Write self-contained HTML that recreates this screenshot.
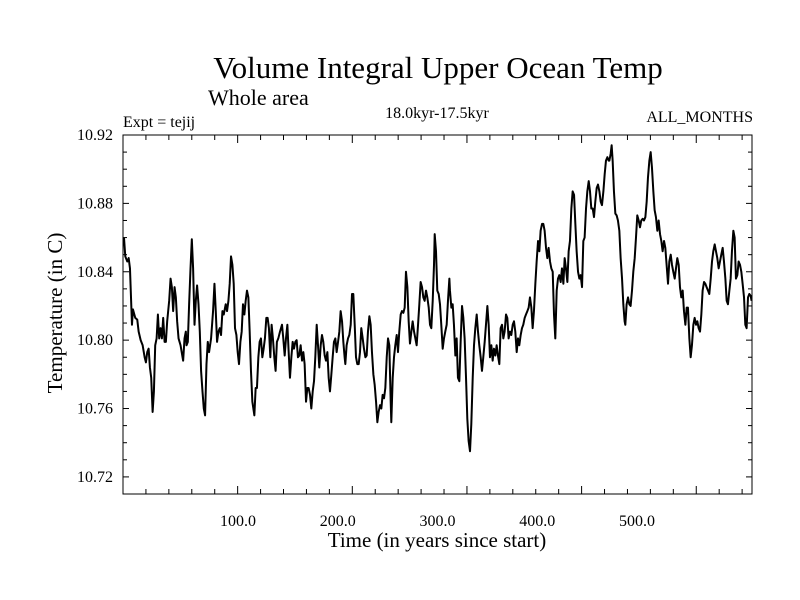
<!DOCTYPE html>
<html><head><meta charset="utf-8">
<style>
html,body{margin:0;padding:0;background:#fff;}
svg{display:block;font-family:"Liberation Serif",serif;}
</style></head>
<body>
<svg id="chart" width="800" height="600" viewBox="0 0 800 600" xmlns="http://www.w3.org/2000/svg">
<text x="438" y="78" font-size="31" text-anchor="middle">Volume Integral Upper Ocean Temp</text>
<text x="208" y="105" font-size="22">Whole area</text>
<text x="123" y="127" font-size="16">Expt = tejij</text>
<text x="437" y="118" font-size="16" text-anchor="middle">18.0kyr-17.5kyr</text>
<text x="753" y="122" font-size="16" text-anchor="end">ALL_MONTHS</text>
<text x="437" y="547" font-size="21" text-anchor="middle">Time (in years since start)</text>
<text x="0" y="0" font-size="21" text-anchor="middle" transform="translate(62,313) rotate(-90)">Temperature (in C)</text>
<g id="axes"></g>
<g id="plot"></g>
</svg>
<script>
const years = [-14.3,-13,-11,-9.6,-8.3,-6.3,-5.3,-3,-1,0.4,2.4,4.4,6.4,7.7,9,10.4,11.7,13,14.4,15.7,17,18.4,19.7,21,22.4,23.7,25,26.4,27.7,29,31,32.4,33.7,35,36.4,37.7,39,40.4,42.4,44.4,45,46.4,47.7,48.4,49.7,51,52.4,53.7,55,56.4,57.7,59,60.4,61.7,63,64.4,65.7,67,68.4,69.7,71,73,75,76.4,77.7,79,80.4,81.7,83,84.4,85.7,87.7,89,90.4,91.7,93,94.4,95.7,97,98.4,99.7,101,102.4,103.7,105,106.4,107.7,109,110.4,111.7,113,114.4,116.4,117.7,119,120.4,121.7,123,124.4,125.7,127,128.4,129.7,131,132.4,133.7,135,136.4,137.7,139,140.4,
142.1,144.1,145.4,146.8,148.1,149.5,150.8,152.1,153.5,154.8,156.1,157.5,158.8,160.1,161.5,162.8,164.2,165.5,166.8,168.2,169.5,170.8,172.2,173.5,174.9,176.2,177.5,178.9,180.2,181.5,182.9,184.2,185.5,186.9,188.2,189.6,190.9,192.2,193.6,194.9,196.2,197.6,198.9,200.3,201.6,202.9,204.3,205.6,206.9,207.6,208.9,210.3,211.6,213,214.3,215.6,217,218.3,219.6,221,222.3,223.6,225,226.3,227.7,229,230.3,231.7,233,234.3,235.7,237,238.4,239.7,241,242.4,243.7,245,246.4,247.7,249.1,250.4,251.7,253.1,253.7,255.1,256.4,257.7,259.1,260.4,261.7,263.1,264.4,265.8,267.1,268.4,269.8,271.1,272.4,273.8,275.1,276.5,277.8,279.1,280.5,281.8,283.1,284.5,285.8,287.1,288.5,289.8,291.2,292.5,293.8,295.2,296.5,297.2,298.5,299.8,301.2,302.5,303.8,305.2,306.5,307.8,309.2,310.5,311.9,
312.5,313.9,315.2,316.5,317.9,319.2,320.5,321.9,323.2,324.6,325.9,327.2,328.6,329.9,331.2,332.6,333.9,335.3,336.6,337.9,339.3,340.6,341.9,343.3,344.6,345.9,347.3,348.6,350,351.3,352.6,354,355.3,356.6,358,359.3,360.6,362,363.3,364.7,366,367.3,368.7,370,371.3,372.7,374,375.4,376.7,378,379.4,380.7,382,383.4,384.7,386,387.4,388.7,390.1,391.4,392.7,394.1,395.4,396.7,398.1,399.4,400.8,402.1,403.4,404.8,406.1,407.4,408.8,410.1,411.4,412.8,414.1,415.5,416.8,418.1,419.5,420.8,422.1,423.5,424.8,426.2,427.5,428.8,430.2,431.5,432.8,434.2,435.5,436.9,438.2,439.5,440.9,442.2,443.5,444.9,446.2,447.5,448.9,450.2,451.6,452.9,454.2,455.6,456.9,458.2,459.6,460.9,462.3,463.6,464.9,466.3,467.6,468.9,470.3,471.6,
472.3,473.6,474.6,475.6,476.9,478.3,479.6,480.9,482.3,483.6,485,486.3,487.6,488.3,489.6,491,492.3,493.6,495,496.3,497.7,499,500.3,501.7,503,504.3,505.7,507,508.4,509.7,511,512.4,513.7,515,516.4,517.7,519,520.4,521.7,523.1,524.4,525.7,527.1,528.4,529.7,531.1,532.4,533.8,535.1,536.4,537.8,539.1,540.4,541.8,543.1,544.4,545.8,547.1,548.5,549.8,551.1,552.5,553.8,555.1,556.5,557.8,559.2,560.5,561.8,563.2,564.5,565.8,567.2,568.5,569.8,571.2,572.5,573.9,575.2,576.5,577.9,579.2,580.5,581.9,583.2,584.5,585.9,587.2,588.6,589.9,591.2,592.6,593.9,595.2,596.6,597.9,599.2,600.6,601.9,603.3,604.6,605.9,607.3,608.6,609.9,611.3,612.6,613.9,614.9];
const temps = [10.860,10.849,10.846,10.848,10.842,10.809,10.818,10.813,10.812,10.805,10.800,10.797,10.790,10.787,10.793,10.795,10.784,10.778,10.758,10.770,10.797,10.801,10.815,10.801,10.807,10.801,10.813,10.799,10.799,10.811,10.823,10.836,10.831,10.817,10.831,10.825,10.811,10.801,10.797,10.790,10.788,10.801,10.805,10.797,10.799,10.821,10.842,10.859,10.842,10.809,10.823,10.832,10.821,10.805,10.782,10.770,10.760,10.756,10.786,10.799,10.793,10.801,10.817,10.833,10.817,10.799,10.805,10.807,10.803,10.817,10.815,10.821,10.817,10.823,10.833,10.849,10.844,10.833,10.807,10.803,10.793,10.786,10.799,10.805,10.821,10.815,10.823,10.829,10.825,10.805,10.782,10.764,10.756,10.772,10.772,10.790,10.799,10.801,10.790,10.795,10.801,10.813,10.813,10.807,10.790,10.809,10.801,10.790,10.782,10.799,10.801,
10.805,10.809,10.801,10.791,10.801,10.809,10.793,10.778,10.790,10.799,10.795,10.799,10.800,10.790,10.791,10.797,10.788,10.793,10.786,10.764,10.772,10.772,10.768,10.760,10.770,10.776,10.790,10.809,10.797,10.784,10.797,10.803,10.799,10.791,10.788,10.793,10.778,10.770,10.780,10.790,10.799,10.801,10.793,10.799,10.805,10.817,10.811,10.799,10.790,10.786,10.797,10.801,10.803,10.809,10.827,10.827,10.809,10.790,10.786,10.786,10.793,10.807,10.801,10.795,10.790,10.791,10.805,10.814,10.809,10.793,10.780,10.774,10.764,10.752,10.758,10.762,10.760,10.768,10.766,10.772,10.790,10.801,10.797,10.764,10.752,10.778,10.790,10.797,10.803,10.793,10.805,10.815,10.817,10.816,10.819,10.840,10.831,10.811,10.798,10.805,10.811,10.805,10.801,10.797,10.809,10.821,10.834,10.831,10.825,10.823,10.829,10.825,10.819,10.809,10.807,10.823,10.844,10.862,10.852,10.829,10.827,10.821,10.809,10.795,10.801,10.805,10.809,10.823,10.836,
10.829,10.819,10.821,10.809,10.791,10.801,10.778,10.776,10.799,10.820,10.813,10.801,10.778,10.754,10.741,10.735,10.751,10.778,10.797,10.807,10.815,10.805,10.797,10.790,10.782,10.790,10.799,10.809,10.820,10.809,10.790,10.797,10.788,10.795,10.791,10.797,10.791,10.786,10.807,10.809,10.801,10.805,10.815,10.813,10.801,10.805,10.803,10.809,10.811,10.805,10.793,10.801,10.797,10.803,10.807,10.809,10.813,10.815,10.817,10.819,10.825,10.819,10.807,10.817,10.833,10.846,10.858,10.852,10.864,10.868,10.868,10.864,10.854,10.848,10.854,10.846,10.842,10.840,10.815,10.801,10.829,10.836,10.838,10.834,10.842,10.833,10.848,10.842,10.834,10.852,10.858,10.877,10.887,10.885,10.868,10.852,10.840,10.836,10.838,10.831,10.858,10.860,10.877,10.887,10.893,10.887,10.877,10.877,10.872,10.881,10.889,10.891,10.887,10.881,10.879,10.887,10.897,10.905,10.907,10.905,
10.905,10.909,10.914,10.905,10.887,10.874,10.873,10.870,10.864,10.848,10.836,10.821,10.811,10.809,10.821,10.825,10.821,10.820,10.829,10.840,10.848,10.860,10.873,10.870,10.866,10.870,10.871,10.870,10.872,10.881,10.895,10.905,10.910,10.901,10.887,10.876,10.872,10.864,10.870,10.862,10.858,10.852,10.858,10.854,10.844,10.833,10.846,10.850,10.844,10.840,10.836,10.842,10.848,10.844,10.831,10.825,10.829,10.817,10.809,10.819,10.819,10.801,10.790,10.797,10.809,10.813,10.809,10.811,10.807,10.805,10.815,10.829,10.834,10.833,10.831,10.829,10.827,10.836,10.846,10.852,10.856,10.852,10.848,10.842,10.846,10.850,10.854,10.846,10.836,10.823,10.821,10.829,10.836,10.852,10.864,10.860,10.836,10.838,10.846,10.844,10.840,10.833,10.825,10.809,10.807,10.825,10.827,10.826,10.823];
const yTickLabels = ["10.72","10.76","10.80","10.84","10.88","10.92"];
const xTickLabels = ["100.0","200.0","300.0","400.0","500.0"];

const NS = "http://www.w3.org/2000/svg";
const L = 123, R = 752, T = 135, B = 494;
const X0 = -15.29, X1 = 615.3, Y0 = 10.71, Y1 = 10.92;
function xs(v){ return L + (v - X0) / (X1 - X0) * (R - L); }
function ys(v){ return B - (v - Y0) / (Y1 - Y0) * (B - T); }
function mk(tag, attrs, parent){ const e = document.createElementNS(NS, tag); for (const k in attrs) e.setAttribute(k, attrs[k]); parent.appendChild(e); return e; }

const axes = document.getElementById('axes');
const plot = document.getElementById('plot');

const frame = mk('rect', {x:L, y:T, width:R-L, height:B-T, fill:'none', stroke:'#000', 'stroke-width':1}, axes);



// y ticks every 0.01, major at labels
for (let i = 1; i <= 20; i++) {
  const v = Y0 + i * 0.01;
  const y = ys(v);
  const major = (i - 1) % 4 === 0;
  const len = major ? 6 : 4;
  const t1 = mk('line', {x1:L, x2:L+len, y1:y, y2:y, stroke:'#000', 'stroke-width':1}, axes);
  
  
  const t2 = mk('line', {x1:R-len, x2:R, y1:y, y2:y, stroke:'#000', 'stroke-width':1}, axes);
  
  
}
yTickLabels.forEach(function(lbl){
  const t = mk('text', {x:113, y:ys(parseFloat(lbl)) + 5, 'font-size':16, 'text-anchor':'end'}, axes);
  t.textContent = lbl;
  
  
});

// x ticks
for (let k = 1; k <= 27; k++) {
  const x = L + 22.93 * k;
  if (x >= R) break;
  const major = k % 5 === 0;
  const len = major ? 8 : 5;
  const a = mk('line', {x1:x, x2:x, y1:B, y2:B-len, stroke:'#000', 'stroke-width':1}, axes);
  
  
  const b = mk('line', {x1:x, x2:x, y1:T, y2:T+len, stroke:'#000', 'stroke-width':1}, axes);
  
  
}
xTickLabels.forEach(function(lbl){
  const t = mk('text', {x:xs(parseFloat(lbl)), y:526, 'font-size':16, 'text-anchor':'middle'}, axes);
  t.textContent = lbl;
  
  
});

let d = '';
for (let i = 0; i < years.length; i++) {
  d += (i ? 'L' : 'M') + xs(years[i]).toFixed(2) + ' ' + ys(temps[i]).toFixed(2);
}
const line = mk('path', {d:d, fill:'none', stroke:'#000', 'stroke-width':2, 'stroke-linejoin':'round'}, plot);


</script>
</body></html>
